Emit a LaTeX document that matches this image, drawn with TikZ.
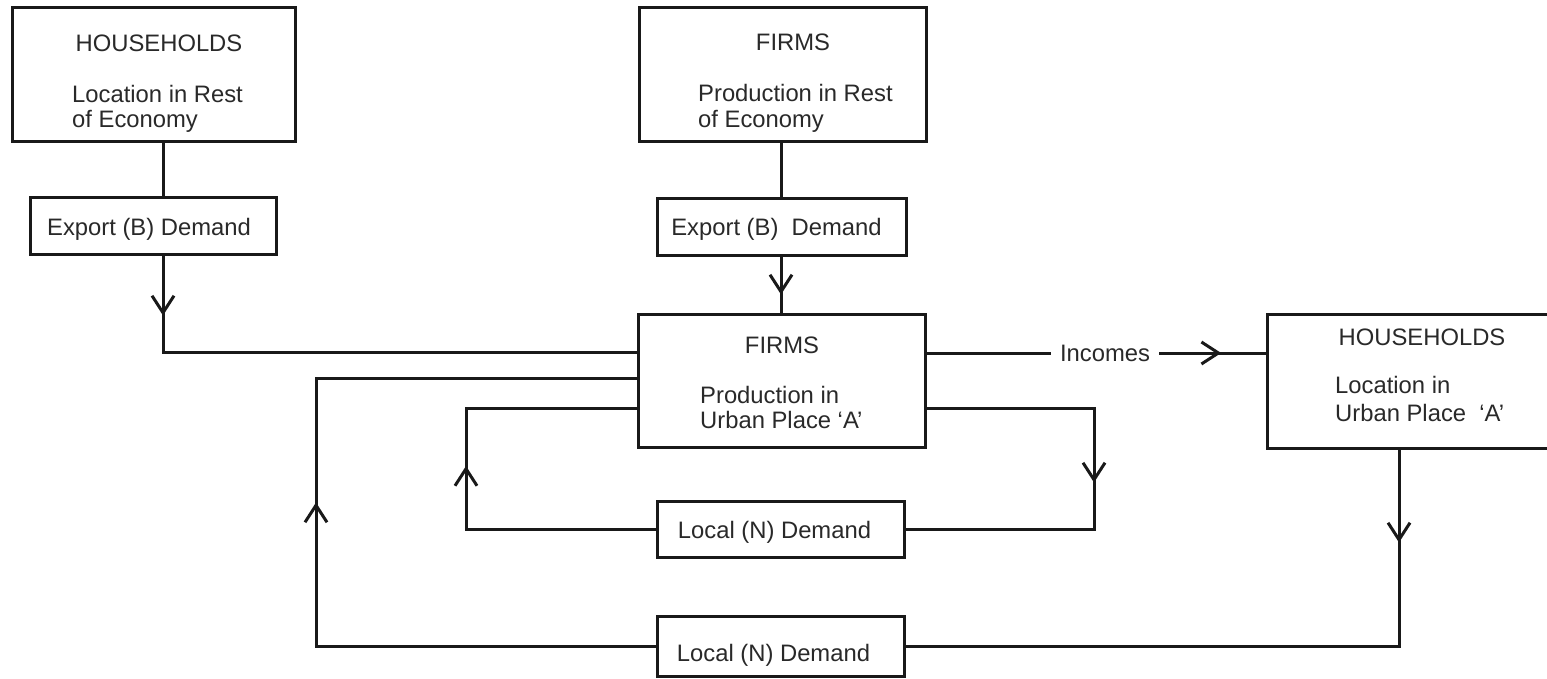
\documentclass[tikz,border=0pt]{standalone}
\usepackage{fontspec}
\setmainfont{Liberation Sans}
\usetikzlibrary{arrows.meta,decorations.markings}
\definecolor{ink}{gray}{0.1}
\definecolor{txt}{gray}{0.16}
\begin{document}
\begin{tikzpicture}[x=1pt,y=-1pt,
  box/.style={draw=ink, line width=3pt, inner sep=0pt, rectangle},
  lbl/.style={text=txt, font=\fontsize{23.8}{28}\selectfont, inner sep=0pt},
  conn/.style={draw=ink, line width=3pt},
  arrowat/.style={postaction={decorate}, decoration={markings,
      mark=at position #1 with {\arrow{Straight Barb[length=17pt,width=22pt,line width=3pt]}}}}]
\useasboundingbox (0,0) rectangle (1547,679);
\fill[white] (0,0) rectangle (1547,679);
\clip (0,0) rectangle (1547,679);

% boxes
\node[box, minimum width=283pt, minimum height=134pt] (H1) at (153.5,75) {};
\node[box, minimum width=287pt, minimum height=134pt] (F1) at (782.5,75) {};
\node[box, minimum width=246pt, minimum height=56pt] (E1) at (153,226) {};
\node[box, minimum width=249pt, minimum height=56pt] (E2) at (781.5,227) {};
\node[box, minimum width=287pt, minimum height=133pt] (FA) at (781.5,380.5) {};
\node[box, minimum width=293pt, minimum height=134pt] (H2) at (1413.5,381) {};
\node[box, minimum width=247pt, minimum height=56pt] (L1) at (780.5,529.5) {};
\node[box, minimum width=247pt, minimum height=60pt] (L2) at (780.5,646) {};

% texts
\node[lbl, anchor=base] (t1) at (159,52) {HOUSEHOLDS};
\node[lbl, anchor=base west] (t2) at (72,103) {Location in Rest};
\node[lbl, anchor=base west] (t3) at (72,128) {of Economy};
\node[lbl, anchor=base] (t4) at (793,51) {FIRMS};
\node[lbl, anchor=base west] (t5) at (698,102) {Production in Rest};
\node[lbl, anchor=base west] (t6) at (698,128) {of Economy};
\node[lbl, anchor=base] (t7) at (149,235) {Export (B) Demand};
\node[lbl, anchor=base] (t8) at (776.5,235) {Export (B)\ \ Demand};
\node[lbl, anchor=base] (t9) at (782,353) {FIRMS};
\node[lbl, anchor=base west] (t10) at (700,403) {Production in};
\node[lbl, anchor=base west] (t11) at (700,428) {Urban Place `A'};
\node[lbl, anchor=base] (t12) at (1422,345) {HOUSEHOLDS};
\node[lbl, anchor=base west] (t13) at (1335,393) {Location in};
\node[lbl, anchor=base west] (t14) at (1335,421) {Urban Place\ \ `A'};
\node[lbl, anchor=base] (t15) at (774.5,538) {Local (N) Demand};
\node[lbl, anchor=base] (t16) at (773.5,661) {Local (N) Demand};
\node[lbl, inner xsep=9pt] (inc) at (1105,353) {Incomes};

% helper columns / rows
\coordinate (cA) at (163,0);
\coordinate (cB) at (781,0);
\coordinate (cR) at (1094,0);
\coordinate (cI) at (466,0);
\coordinate (cO) at (316,0);
\coordinate (cH) at (1399,0);
\coordinate (r1) at (0,352);
\coordinate (r2) at (0,378);
\coordinate (r3) at (0,408);

% connectors
\draw[conn] (H1.south -| cA) -- (E1.north -| cA);
\draw[conn, arrowat=60pt] (E1.south -| cA) |- (FA.west |- r1);
\draw[conn] (F1.south -| cB) -- (E2.north -| cB);
\draw[conn, arrowat=38pt] (E2.south -| cB) -- (FA.north -| cB);
\draw[conn] (FA.east |- inc.west) -- (inc.west);
\draw[conn, arrowat=62pt] (inc.east) -- (H2.west |- inc.east);
\draw[conn, arrowat=242pt] (FA.east |- r3) -| (L1.east -| cR) -- (L1.east);
\draw[conn, arrowat=253pt] (L1.west) -| (r3 -| cI) -- (FA.west |- r3);
\draw[conn, arrowat=93pt] (H2.south -| cH) |- (L2.east);
\draw[conn, arrowat=483pt] (L2.west) -| (r2 -| cO) -- (FA.west |- r2);
\end{tikzpicture}
\end{document}
